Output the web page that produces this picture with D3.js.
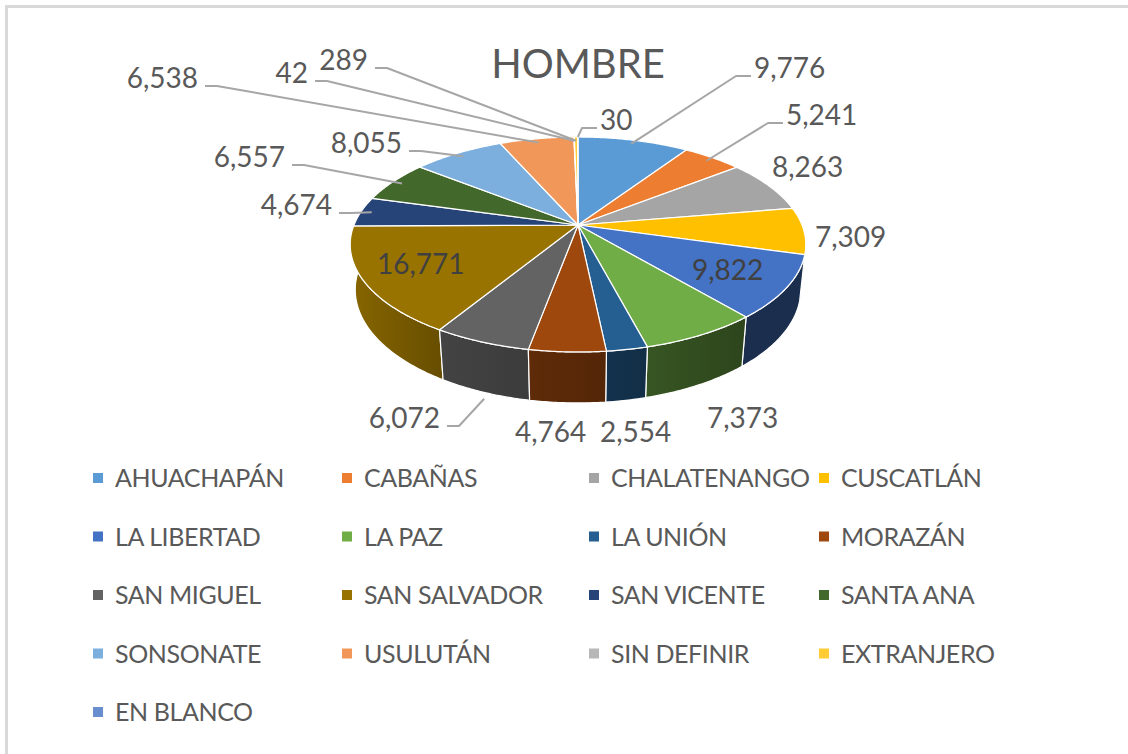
<!DOCTYPE html>
<html>
<head>
<meta charset="utf-8">
<script src="https://cdn.jsdelivr.net/npm/d3@7"></script>
<style>
  html, body { margin: 0; padding: 0; background: #fff; }
  svg { display: block; font-family: Lato, "Open Sans", sans-serif; }
</style>
</head>
<body>
<svg id="chart" width="1128" height="754"></svg>
<script>
const chartTitle = "HOMBRE";

const departments = [
  "AHUACHAPÁN", "CABAÑAS", "CHALATENANGO", "CUSCATLÁN",
  "LA LIBERTAD", "LA PAZ", "LA UNIÓN", "MORAZÁN",
  "SAN MIGUEL", "SAN SALVADOR", "SAN VICENTE", "SANTA ANA",
  "SONSONATE", "USULUTÁN", "SIN DEFINIR", "EXTRANJERO",
  "EN BLANCO",
];

const hombres = [
  9776, 5241, 8263, 7309,
  9822, 7373, 2554, 4764,
  6072, 16771, 4674, 6557,
  8055, 6538, 42, 289,
  30,
];

const sliceColors = [
  "#5B9BD5", "#ED7D31", "#A5A5A5", "#FFC000",
  "#4472C4", "#70AD47", "#255E91", "#9E480E",
  "#636363", "#997300", "#264478", "#43682B",
  "#7CAFDD", "#F1975A", "#B7B7B7", "#FFCD33",
  "#698ED0",
];

// where each data label sits (text x, baseline y) and how its leader runs
const labelLayout = [
  { x: 754, y: 78, anchor: "start", leader: "right" },
  { x: 786, y: 125, anchor: "start", leader: "right" },
  { x: 772, y: 177, anchor: "start" },
  { x: 815, y: 247, anchor: "start" },
  { x: 692, y: 280, anchor: "start", inside: true },
  { x: 707, y: 428, anchor: "start" },
  { x: 600, y: 442, anchor: "start" },
  { x: 515, y: 442, anchor: "start" },
  { x: 440, y: 428, anchor: "end", leader: "left", r: 1, z: "bottom" },
  { x: 377, y: 274, anchor: "start", inside: true },
  { x: 332, y: 215, anchor: "end", leader: "left" },
  { x: 285, y: 167, anchor: "end", leader: "left" },
  { x: 402, y: 153, anchor: "end", leader: "left" },
  { x: 198, y: 88, anchor: "end", leader: "left" },
  { x: 308, y: 83, anchor: "end", leader: "left" },
  { x: 368, y: 70, anchor: "end", leader: "left" },
  { x: 600, y: 130, anchor: "start", leader: "right", r: 1 },
];

const legendColX = [93, 342, 589, 819];
const legendTop = 478;
const legendStep = 58.5;

const textColor = "#595959";
const svg = d3.select("#chart");

// chart area border
svg.append("rect")
  .attr("x", 6.5).attr("y", 6.5)
  .attr("width", 1200).attr("height", 800)
  .attr("fill", "none")
  .attr("stroke", "#d9d9d9")
  .attr("stroke-width", 3);

// 3D pie projection (disk tilted towards the viewer, with perspective)
const cx = 578, cy = 225, k = 224;
const sinT = 0.464, cosT = Math.sqrt(1 - sinT * sinT);
const D = 4.885, depth = 0.23;

function project(a, r, z) {
  const px = r * Math.sin(a), py = -r * Math.cos(a);
  const sy = py * sinT - z * cosT;
  const dist = D - py * cosT - z * sinT;
  const s = D / dist;
  return [cx + k * px * s, cy + k * sy * s];
}

function arcPoints(a0, a1, r, z) {
  const n = Math.max(2, Math.ceil(Math.abs(a1 - a0) / 0.01));
  return d3.range(n + 1).map(i => project(a0 + (a1 - a0) * i / n, r, z));
}

function shade(color, a) {
  const deg = a * 180 / Math.PI;
  const t = Math.max(0, Math.min(1, (deg - 150) / 120));
  const f = 0.4 + 0.48 * Math.pow(t, 0.8);
  const c = d3.rgb(color);
  return d3.rgb(c.r * f, c.g * f, c.b * f).formatHex();
}

const arcs = d3.pie().sort(null).value(d => d)(hombres);
const line = d3.line();
const defs = svg.append("defs");

// side walls, front half only, far ones first
const walls = arcs
  .map((d, i) => ({
    i,
    a0: Math.max(d.startAngle, Math.PI / 2),
    a1: Math.min(d.endAngle, 3 * Math.PI / 2),
  }))
  .filter(w => w.a1 > w.a0)
  .sort((p, q) => -Math.cos((p.a0 + p.a1) / 2) - -Math.cos((q.a0 + q.a1) / 2));

walls.forEach(w => {
  const g = defs.append("linearGradient")
    .attr("id", "wall-" + w.i)
    .attr("gradientUnits", "userSpaceOnUse")
    .attr("x1", project(w.a0, 1, 0)[0]).attr("y1", 0)
    .attr("x2", project(w.a1, 1, 0)[0]).attr("y2", 0);
  g.append("stop").attr("offset", 0).attr("stop-color", shade(sliceColors[w.i], w.a0));
  g.append("stop").attr("offset", 1).attr("stop-color", shade(sliceColors[w.i], w.a1));
});

svg.append("g").attr("class", "walls")
  .selectAll("path")
  .data(walls)
  .join("path")
  .attr("d", w => line(
    arcPoints(w.a0, w.a1, 1, 0).concat(arcPoints(w.a1, w.a0, 1, -depth))
  ) + "Z")
  .attr("fill", w => `url(#wall-${w.i})`)
  .attr("stroke", "#fff")
  .attr("stroke-width", 1.2)
  .attr("stroke-linejoin", "round");

// top face
svg.append("g").attr("class", "top")
  .selectAll("path")
  .data(arcs)
  .join("path")
  .attr("d", d => line([project(0, 0, 0)].concat(arcPoints(d.startAngle, d.endAngle, 1, 0))) + "Z")
  .attr("fill", (d, i) => sliceColors[i])
  .attr("stroke", "#fff")
  .attr("stroke-width", 1.2)
  .attr("stroke-linejoin", "round");

// title
svg.append("text")
  .attr("x", cx).attr("y", 78)
  .attr("text-anchor", "middle")
  .attr("font-size", 40)
  .attr("fill", textColor)
  .text(chartTitle);

// leader lines
const fmt = d3.format(",");
const leaders = svg.append("g").attr("class", "leaders")
  .attr("fill", "none")
  .attr("stroke", "#a6a6a6")
  .attr("stroke-width", 2)
  .attr("stroke-linejoin", "round");

arcs.forEach((d, i) => {
  const L = labelLayout[i];
  if (!L.leader) return;
  const mid = (d.startAngle + d.endAngle) / 2;
  const z = L.z === "bottom" ? -depth - 0.03 : 0;
  const start = project(mid, L.r ?? 0.95, z);
  const ly = L.y - 2;
  const pts = L.leader === "left"
    ? [[L.x + 7, ly], [L.x + 19, ly], start]
    : [start, [L.x - 18, ly], [L.x - 3, ly]];
  leaders.append("path").attr("d", line(pts));
});

// data labels
svg.append("g").attr("class", "labels")
  .selectAll("text")
  .data(arcs)
  .join("text")
  .attr("x", (d, i) => labelLayout[i].x)
  .attr("y", (d, i) => labelLayout[i].y)
  .attr("text-anchor", (d, i) => labelLayout[i].anchor)
  .attr("font-size", 28)
  .attr("fill", (d, i) => labelLayout[i].inside ? "#404040" : textColor)
  .text(d => fmt(d.data));

// legend
const legend = svg.append("g").attr("class", "legend");
const items = legend.selectAll("g")
  .data(departments)
  .join("g")
  .attr("transform", (d, i) =>
    `translate(${legendColX[i % 4]},${legendTop + Math.floor(i / 4) * legendStep})`);

items.append("rect")
  .attr("x", 0).attr("y", -5)
  .attr("width", 10).attr("height", 10)
  .attr("fill", (d, i) => sliceColors[i]);

items.append("text")
  .attr("x", 22).attr("y", 0)
  .attr("dy", "0.36em")
  .attr("font-size", 25)
  .attr("letter-spacing", -0.4)
  .attr("fill", textColor)
  .text(d => d);
</script>
</body>
</html>
